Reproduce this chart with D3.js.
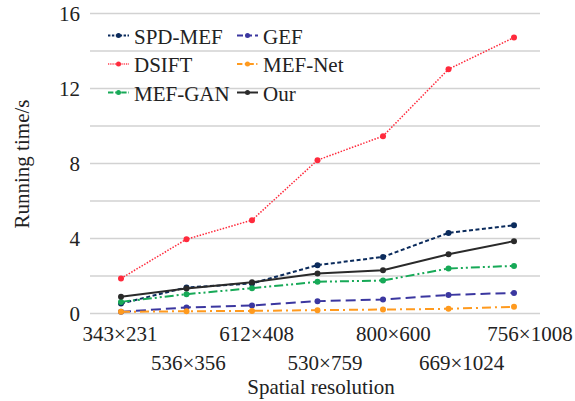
<!DOCTYPE html>
<html>
<head>
<meta charset="utf-8">
<script src="https://cdn.jsdelivr.net/npm/d3@7"></script>
<style>
  body { margin: 0; background: #fff; }
  svg text { font-family: "Liberation Serif", serif; fill: #222; }
</style>
</head>
<body>
<svg id="chart" width="575" height="401"></svg>
<script>
const categories = ["343×231", "536×356", "612×408", "530×759", "800×600", "669×1024", "756×1008"];
const spdMef = [0.53, 1.39, 1.6, 2.58, 3.02, 4.3, 4.71];
const gef = [0.09, 0.32, 0.43, 0.66, 0.75, 0.99, 1.1];
const dsift = [1.87, 3.96, 4.98, 8.18, 9.46, 13.03, 14.72];
const mefNet = [0.09, 0.12, 0.14, 0.18, 0.21, 0.25, 0.36];
const mefGan = [0.62, 1.03, 1.35, 1.69, 1.76, 2.4, 2.54];
const our = [0.89, 1.33, 1.67, 2.13, 2.31, 3.16, 3.86];
const yTicks = [0, 4, 8, 12, 16];

const series = [
  { name: "SPD-MEF", values: spdMef, color: "#0b2b5c", dash: "4,2.5", width: 2 },
  { name: "GEF", values: gef, color: "#3b37a0", dash: "10,5", width: 2 },
  { name: "DSIFT", values: dsift, color: "#ff2a3c", dash: "1.5,1.5", width: 1.5 },
  { name: "MEF-Net", values: mefNet, color: "#ff9a1e", dash: "9,4,2,4", width: 2 },
  { name: "MEF-GAN", values: mefGan, color: "#17a957", dash: "9,3,2,3,2,3", width: 2 },
  { name: "Our", values: our, color: "#2a2a2a", dash: null, width: 2 }
];

const svg = d3.select("#chart");
const gridLeft = 90, gridRight = 540;

const x = d3.scalePoint().domain(categories).range([121, 514]);
const xLabel = d3.scalePoint().domain(categories).range([120, 530]);
const y = d3.scaleLinear().domain([0, 16]).range([313.5, 13.5]);

// grid lines every 2
svg.append("g")
  .selectAll("line")
  .data(d3.range(0, 17, 2))
  .join("line")
  .attr("x1", gridLeft)
  .attr("x2", gridRight)
  .attr("y1", (d) => y(d))
  .attr("y2", (d) => y(d))
  .attr("stroke", "#d2d2d2")
  .attr("stroke-width", 1.5);

// y tick labels
svg.append("g")
  .selectAll("text")
  .data(yTicks)
  .join("text")
  .attr("x", 80)
  .attr("y", (d) => y(d) + 7.5)
  .attr("text-anchor", "end")
  .attr("font-size", 21)
  .text((d) => d);

// x tick labels, staggered on two rows
svg.append("g")
  .selectAll("text")
  .data(categories)
  .join("text")
  .attr("x", (d) => xLabel(d))
  .attr("y", (d, i) => (i % 2 === 0 ? 341 : 370))
  .attr("text-anchor", "middle")
  .attr("font-size", 21)
  .text((d) => d);

svg.append("text")
  .attr("x", 321)
  .attr("y", 394)
  .attr("text-anchor", "middle")
  .attr("font-size", 21)
  .text("Spatial resolution");

svg.append("text")
  .attr("transform", "translate(29,164) rotate(-90)")
  .attr("text-anchor", "middle")
  .attr("font-size", 21)
  .text("Running time/s");

const line = d3.line()
  .x((d, i) => x(categories[i]))
  .y((d) => y(d));

const g = svg.append("g");
series.forEach((s) => {
  g.append("path")
    .datum(s.values)
    .attr("fill", "none")
    .attr("stroke", s.color)
    .attr("stroke-width", s.width)
    .attr("stroke-dasharray", s.dash)
    .attr("d", line);
  g.selectAll(null)
    .data(s.values)
    .join("circle")
    .attr("cx", (d, i) => x(categories[i]))
    .attr("cy", (d) => y(d))
    .attr("r", 3)
    .attr("fill", s.color);
});

// legend
const legend = svg.append("g");
series.forEach((s, i) => {
  const col = i % 2, row = Math.floor(i / 2);
  const lx = col === 0 ? 108 : 237;
  const ly = 35.5 + row * 28.5;
  legend.append("line")
    .attr("x1", lx).attr("x2", lx + 21)
    .attr("y1", ly).attr("y2", ly)
    .attr("stroke", s.color)
    .attr("stroke-width", s.width)
    .attr("stroke-dasharray", s.dash ? s.dash.split(",").map((v) => v * 0.6).join(",") : null);
  legend.append("circle")
    .attr("cx", lx + 10.5).attr("cy", ly).attr("r", 2.5)
    .attr("fill", s.color);
  legend.append("text")
    .attr("x", lx + 26)
    .attr("y", ly + 8)
    .attr("font-size", 21)
    .text(s.name);
});
</script>
</body>
</html>
